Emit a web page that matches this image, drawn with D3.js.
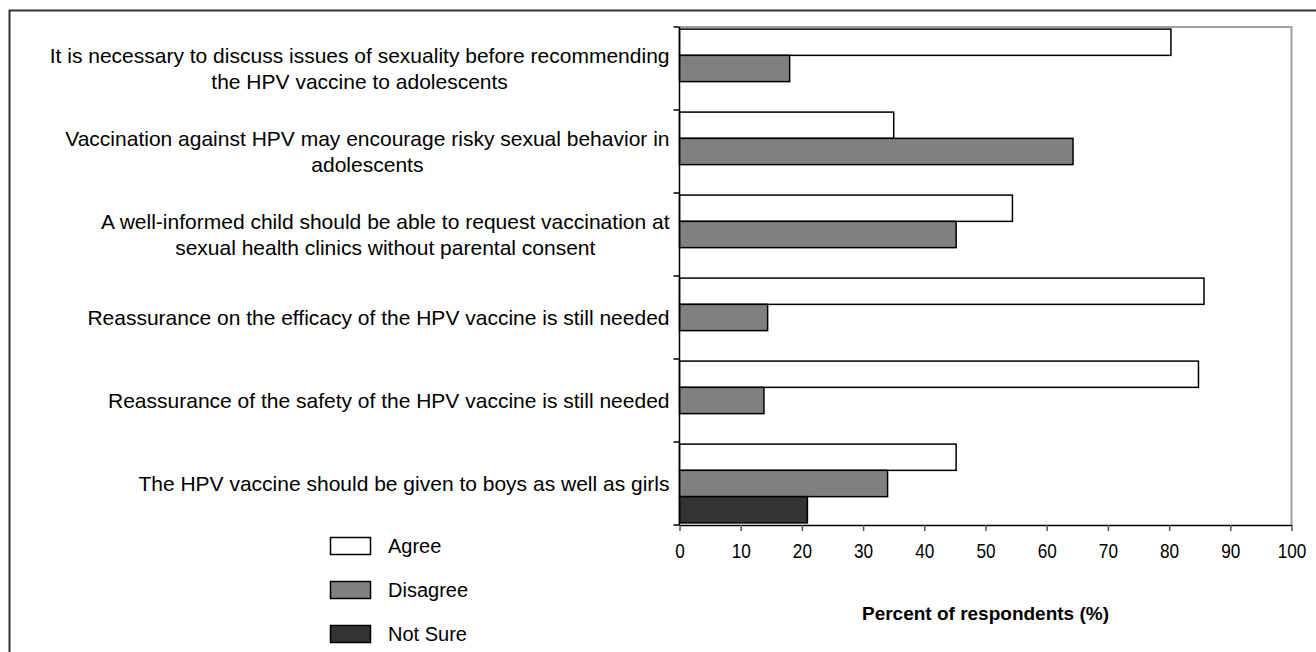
<!DOCTYPE html>
<html>
<head>
<meta charset="utf-8">
<script src="https://cdn.jsdelivr.net/npm/d3@7"></script>
<style>
  html, body { margin: 0; padding: 0; background: #fff; }
  svg { display: block; }
  text { font-family: "Liberation Sans", Arial, sans-serif; fill: #000; }
</style>
</head>
<body>
<svg id="chart" width="1316" height="652"></svg>
<script>
const categories = [
  ["It is necessary to discuss issues of sexuality before recommending", "the HPV vaccine to adolescents"],
  ["Vaccination against HPV may encourage risky sexual behavior in", "adolescents"],
  ["A well-informed child should be able to request vaccination at", "sexual health clinics without parental consent"],
  ["Reassurance on the efficacy of the HPV vaccine is still needed"],
  ["Reassurance of the safety of the HPV vaccine is still needed"],
  ["The HPV vaccine should be given to boys as well as girls"]
];
const seriesNames = ["Agree", "Disagree", "Not Sure"];
const agreeValues = [80.3, 35.0, 54.4, 85.7, 84.8, 45.2];
const disagreeValues = [18.0, 64.3, 45.2, 14.4, 13.8, 34.0];
const notSureValues = [null, null, null, null, null, 20.9];
const seriesColors = ["#ffffff", "#808080", "#333333"];
const xTicks = [0, 10, 20, 30, 40, 50, 60, 70, 80, 90, 100];
const xTitle = "Percent of respondents (%)";

(function () {
const svg = d3.select("#chart");

// outer frame
svg.append("rect")
  .attr("x", 9.5).attr("y", 10.5).attr("width", 1330).attr("height", 660)
  .attr("fill", "none").attr("stroke", "#333").attr("stroke-width", 2);

const pLeft = 679.5, pRight = 1291.5, pTop = 27, pBottom = 525;
const catIdx = categories.map((d, i) => i);
const x = d3.scaleLinear().domain([0, 100]).range([pLeft, pRight]);
const y0 = d3.scaleBand().domain(catIdx).range([pTop, pBottom]).padding(0);
const y1 = d3.scaleBand().domain(seriesNames).range([0, y0.bandwidth()]).paddingInner(0).paddingOuter(0.08);

const seriesValues = [agreeValues, disagreeValues, notSureValues];

// plot area top/right border
svg.append("path")
  .attr("d", `M${pLeft},${pTop}H${pRight}V${pBottom}`)
  .attr("fill", "none").attr("stroke", "#a0a0a0").attr("stroke-width", 2);

// bars
const g = svg.append("g");
seriesNames.forEach((s, si) => {
  g.selectAll(null)
    .data(catIdx.filter(i => seriesValues[si][i] != null))
    .enter().append("rect")
    .attr("x", x(0))
    .attr("y", i => y0(i) + y1(s))
    .attr("width", i => x(seriesValues[si][i]) - x(0))
    .attr("height", y1.bandwidth())
    .attr("fill", seriesColors[si])
    .attr("stroke", "#000")
    .attr("stroke-width", 1.5);
});

// x axis
const xAxis = svg.append("g")
  .attr("transform", `translate(0,${pBottom})`)
  .call(d3.axisBottom(x).tickValues(xTicks).tickSize(6).tickSizeOuter(0).tickPadding(13));
xAxis.select(".domain").attr("stroke", "#000").attr("stroke-width", 1.5);
xAxis.selectAll(".tick line").attr("stroke", "#555").attr("stroke-width", 1.5);
xAxis.selectAll(".tick text")
  .style("font-family", '"Liberation Sans", Arial, sans-serif')
  .style("font-size", "20px").attr("fill", "#000")
  .attr("transform", "scale(0.86,1)");

// y axis line and ticks at band boundaries
svg.append("line")
  .attr("x1", pLeft).attr("x2", pLeft).attr("y1", pTop).attr("y2", pBottom)
  .attr("stroke", "#000").attr("stroke-width", 1.5);
const boundaries = catIdx.map(i => y0(i)).concat([y0.range()[1]]);
svg.selectAll(null).data(boundaries).enter().append("line")
  .attr("x1", pLeft - 6).attr("x2", pLeft).attr("y1", d => d).attr("y2", d => d)
  .attr("stroke", "#000").attr("stroke-width", 1.5);

// category labels
const lineH = 26;
const labelSize = 21;
categories.forEach((lines, i) => {
  const cy = y0(i) + y0.bandwidth() / 2;
  const gl = svg.append("g");
  const texts = lines.map((ln, k) => gl.append("text")
    .attr("y", cy + (k - (lines.length - 1) / 2) * lineH)
    .attr("dy", "0.35em")
    .style("font-size", labelSize + "px")
    .text(ln));
  const widths = texts.map(t => t.node().getComputedTextLength());
  const maxW = d3.max(widths);
  const center = pLeft - 10 - maxW / 2;
  texts.forEach(t => t.attr("x", center).attr("text-anchor", "middle"));
});

// x title
svg.append("text")
  .attr("x", (pLeft + pRight) / 2).attr("y", 613).attr("dy", "0.35em")
  .attr("text-anchor", "middle")
  .style("font-size", "19px").style("font-weight", "bold")
  .text(xTitle);

// legend
const legendY = d3.scalePoint().domain(seriesNames).range([546, 634]);
seriesNames.forEach((s, si) => {
  svg.append("rect")
    .attr("x", 330.5).attr("y", legendY(s) - 8.5).attr("width", 40).attr("height", 17)
    .attr("fill", seriesColors[si]).attr("stroke", "#000").attr("stroke-width", 1.5);
  svg.append("text")
    .attr("x", 388).attr("y", legendY(s)).attr("dy", "0.35em")
    .style("font-size", "20px")
    .text(s);
});
})();
</script>
</body>
</html>
